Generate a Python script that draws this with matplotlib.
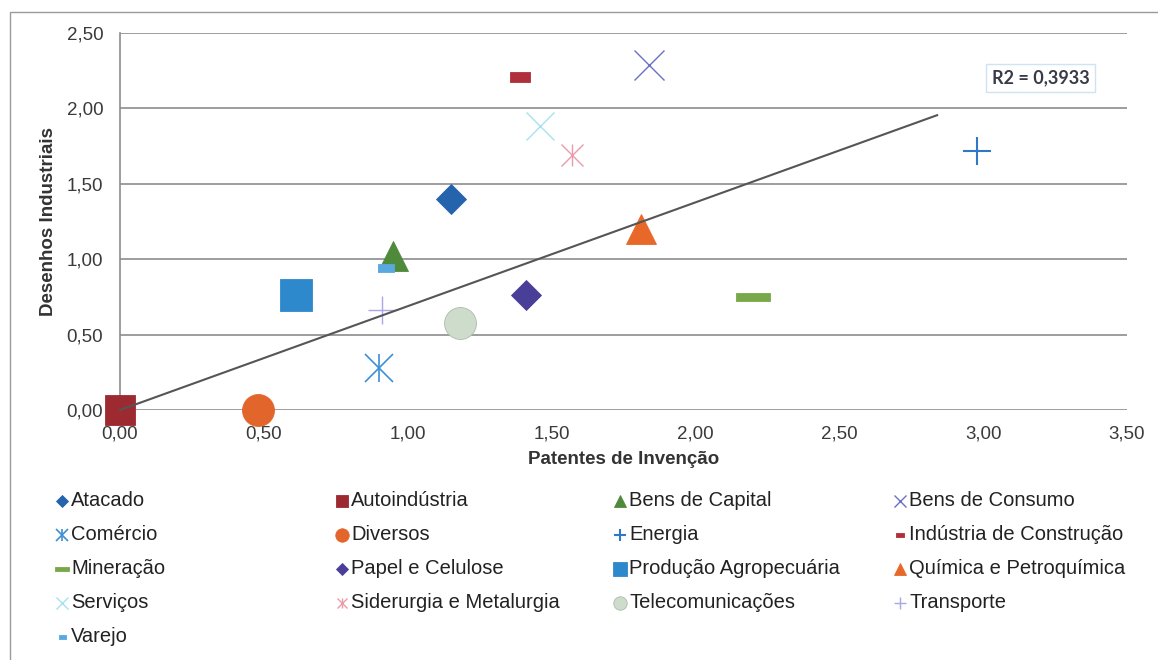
import matplotlib.pyplot as plt
import numpy as np
from matplotlib.lines import Line2D
from matplotlib.patches import Rectangle
from matplotlib.ticker import FuncFormatter

plt.rcParams['font.family'] = ['Liberation Sans', 'DejaVu Sans']

# dados
setores = ['Atacado', 'Autoindústria', 'Bens de Capital', 'Bens de Consumo',
           'Comércio', 'Diversos', 'Energia', 'Indústria de Construção',
           'Mineração', 'Papel e Celulose', 'Produção Agropecuária', 'Química e Petroquímica',
           'Serviços', 'Siderurgia e Metalurgia', 'Telecomunicações', 'Transporte',
           'Varejo']
patentes = [1.15, 0.00, 0.95, 1.84, 0.90, 0.48, 2.98, 1.39, 2.20, 1.41, 0.61, 1.81,
            1.46, 1.57, 1.18, 0.91, 0.925]
desenhos = [1.40, 0.00, 1.02, 2.29, 0.28, 0.00, 1.72, 2.21, 0.75, 0.76, 0.76, 1.20,
            1.88, 1.69, 0.58, 0.66, 0.94]

trend_x = [0.0, 2.84]
trend_y = [0.0, 1.955]
r2_texto = 'R2 = 0,3933'

# estilo de cada série (marcador, tamanho, cor, espessura)
DASH_L = [(-1, -0.25), (1, -0.25), (1, 0.25), (-1, 0.25), (-1, -0.25)]
DASH_M = [(-1, -0.45), (1, -0.45), (1, 0.45), (-1, 0.45), (-1, -0.45)]
estilos = [
    ('D', 15.5, '#2563ad', 0),
    ('s', 22, '#9c2a30', 0),
    ('^', 22, '#4f8a3b', 0),
    ('x', 21, '#6a70c6', 1.0),
    ('star', 20, '#3d8fd6', 1.2),
    ('o', 23, '#e2652b', 0),
    ('+', 20, '#2f78c8', 1.5),
    (DASH_M, 15, '#b0303a', 0),
    (DASH_L, 24, '#79a84b', 0),
    ('D', 15, '#4a3f98', 0),
    ('s', 23, '#2e88cc', 0),
    ('^', 22, '#e8682a', 0),
    ('x', 20, '#a6e2f2', 1.0),
    ('star', 16, '#eb9aaa', 1.0),
    ('o', 23, '#cddccb', 0),
    ('+', 20, '#a8a8e8', 1.0),
    (DASH_M, 12, '#5aa8e0', 0),
]


def desenha(alvo, x, y, est, escala=1.0, transform=None):
    m, ms, cor, lw = est
    ms = ms * escala
    kw = dict(linestyle='none', clip_on=False, zorder=3)
    if transform is not None:
        kw['transform'] = transform
    if m == 'star':
        marks = ['x', '|']
    else:
        marks = [m]
    for mk in marks:
        if lw > 0:
            ln = Line2D([x], [y], marker=mk, markersize=ms, color=cor,
                        markeredgewidth=lw, **kw)
        else:
            ec = '#b0b8b0' if cor == '#cddccb' else cor
            ln = Line2D([x], [y], marker=mk, markersize=ms, markerfacecolor=cor,
                        markeredgecolor=ec, markeredgewidth=0.6, **kw)
        alvo.add_artist(ln) if transform is not None else alvo.add_line(ln)


W, H = 1158, 660
fig = plt.figure(figsize=(W / 100, H / 100), dpi=100)
ax = fig.add_axes([120 / W, 1 - 410 / H, (1127 - 120) / W, (410 - 33) / H])

ax.set_xlim(0, 3.5)
ax.set_ylim(0, 2.5)
ax.set_xticks(np.arange(0, 3.51, 0.5))
ax.set_yticks(np.arange(0, 2.51, 0.5))
fmt = FuncFormatter(lambda v, p: f'{v:.2f}'.replace('.', ','))
ax.xaxis.set_major_formatter(fmt)
ax.yaxis.set_major_formatter(fmt)
ax.tick_params(length=0, labelsize=13.5, labelcolor='#3a3a3a')
ax.tick_params(axis='y', pad=12)
ax.tick_params(axis='x', pad=11)
ax.yaxis.grid(True, color='#8c8c8c', lw=1.2)
ax.set_axisbelow(True)
for s in ['top', 'right', 'bottom']:
    ax.spines[s].set_visible(False)
ax.spines['left'].set_color('#8c8c8c')
ax.spines['left'].set_linewidth(1.2)

ax.set_xlabel('Patentes de Invenção', fontsize=13.5, fontweight='bold', color='#333333', labelpad=6)
ax.set_ylabel('Desenhos Industriais', fontsize=13.5, fontweight='bold', color='#333333', labelpad=7)

for i in range(len(setores)):
    desenha(ax, patentes[i], desenhos[i], estilos[i])

ax.plot(trend_x, trend_y, color='#555555', lw=1.5, zorder=4, clip_on=False)

ax.text(3.20, 2.20, r2_texto, ha='center', va='center', fontsize=13,
        family=['Lato', 'DejaVu Sans'], fontweight='bold', color='#3a3a48',
        bbox=dict(boxstyle='square,pad=0.3', fc='white', ec='#cfe3f3', lw=1), zorder=5)

# legenda desenhada à mão (4 colunas, ordem por linha)
col_x = [62, 342, 620, 900]
lin_y = [501, 535, 569, 603, 637]
for i, nome in enumerate(setores):
    c, r = i % 4, i // 4
    xm, ym = col_x[c] / W, 1 - lin_y[r] / H
    desenha(fig, xm, ym, estilos[i], escala=0.42, transform=fig.transFigure)
    fig.text(xm + 9 / W, ym, nome, ha='left', va='center', fontsize=14.5, color='#222222')

# moldura da área do gráfico
fig.add_artist(Rectangle((10 / W, -0.1), 1.2, 1.1 - 12 / H, transform=fig.transFigure,
                         fill=False, ec='#9a9a9a', lw=1))

fig.savefig('out.png', dpi=100)
